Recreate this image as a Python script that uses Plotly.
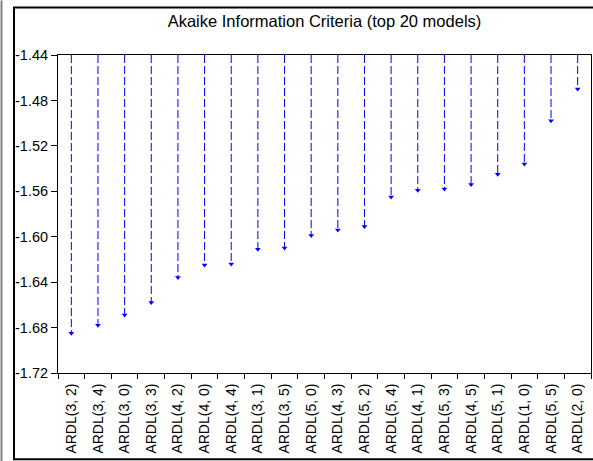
import plotly.graph_objects as go

models = ["ARDL(3, 2)", "ARDL(3, 4)", "ARDL(3, 0)", "ARDL(3, 3)", "ARDL(4, 2)",
          "ARDL(4, 0)", "ARDL(4, 4)", "ARDL(3, 1)", "ARDL(3, 5)", "ARDL(5, 0)",
          "ARDL(4, 3)", "ARDL(5, 2)", "ARDL(5, 4)", "ARDL(4, 1)", "ARDL(5, 3)",
          "ARDL(4, 5)", "ARDL(5, 1)", "ARDL(1, 0)", "ARDL(5, 5)", "ARDL(2, 0)"]
aic = [-1.685, -1.678, -1.669, -1.658, -1.636,
       -1.625, -1.624, -1.611, -1.610, -1.599,
       -1.594, -1.591, -1.565, -1.559, -1.558,
       -1.554, -1.545, -1.536, -1.498, -1.470]
base = -1.44
y_ticks = [-1.44, -1.48, -1.52, -1.56, -1.60, -1.64, -1.68, -1.72]
y_labels = ["-1.44", "-1.48", "-1.52", "-1.56", "-1.60", "-1.64", "-1.68", "-1.72"]

lx, ly = [], []
for m, v in zip(models, aic):
    lx += [m, m, None]
    ly += [base, v, None]

fig = go.Figure()
fig.add_trace(go.Scatter(x=lx, y=ly, mode="lines",
                         line=dict(color="#0000FF", width=1, dash="8px,3px"),
                         hoverinfo="skip", showlegend=False))
fig.add_trace(go.Scatter(x=models, y=aic, mode="markers",
                         marker=dict(symbol="triangle-down", size=5,
                                     color="#0000FF", line=dict(width=0)),
                         showlegend=False))

W, H = 593, 461
L, R, T, B = 58, 2, 54.5, 88.3
pw = W - L - R
ph = H - T - B
def px(x):
    return (x - L) / pw
def py(y):
    return (H - B - y) / ph

shapes = [
    dict(type="rect", xref="paper", yref="paper",
         x0=px(14), x1=px(600), y0=py(459), y1=py(7),
         line=dict(color="black", width=2), fillcolor="rgba(0,0,0,0)", layer="above"),
    dict(type="line", xref="paper", yref="paper",
         x0=px(1.5), x1=px(1.5), y0=py(461), y1=py(0),
         line=dict(color="#808080", width=2)),
]

fig.update_layout(
    width=W, height=H,
    margin=dict(l=L, r=R, t=T, b=B, pad=0),
    paper_bgcolor="white", plot_bgcolor="white",
    font=dict(family="Liberation Sans, Arial, sans-serif", size=14, color="black"),
    title=dict(text="Akaike Information Criteria (top 20 models)",
               xref="container", x=324.5 / W, xanchor="center",
               yref="container", y=1 - 21 / H, yanchor="middle",
               font=dict(size=16.5, color="black")),
    shapes=shapes,
    xaxis=dict(type="category", categoryorder="array", categoryarray=models,
               range=[-0.5, 19.5], showgrid=False, zeroline=False,
               showline=True, linecolor="black", linewidth=1, mirror=True,
               ticks="outside", tickson="boundaries", ticklen=5, tickcolor="black",
               tickangle=-90, tickfont=dict(size=14), ticklabelstandoff=4,
               fixedrange=True),
    yaxis=dict(range=[-1.72, -1.44], tickvals=y_ticks, ticktext=y_labels,
               showgrid=False, zeroline=False,
               showline=True, linecolor="black", linewidth=1, mirror=True,
               ticks="outside", ticklen=6, tickcolor="black",
               tickfont=dict(size=14.5), fixedrange=True),
)

fig.write_html("out.html", config={"displayModeBar": False},
               post_script="document.body.style.margin='0';document.body.style.overflow='hidden';")
